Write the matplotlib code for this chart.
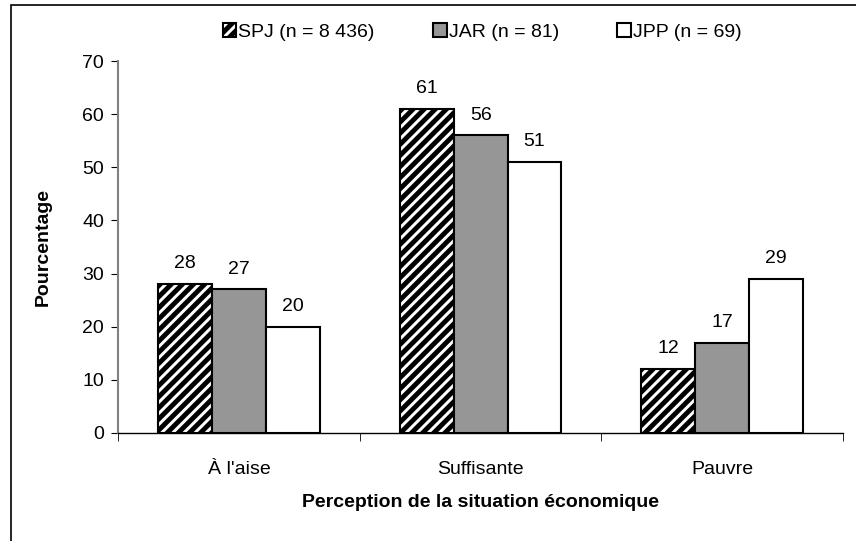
import numpy as np
import matplotlib.pyplot as plt
from matplotlib.patches import Rectangle

plt.rcParams['font.family'] = ['Liberation Sans', 'DejaVu Sans']
plt.rcParams['hatch.linewidth'] = 3.5

# data
categories = ["À l'aise", "Suffisante", "Pauvre"]
series = ["SPJ (n = 8 436)", "JAR (n = 81)", "JPP (n = 69)"]
spj = [28, 61, 12]
jar = [27, 56, 17]
jpp = [20, 51, 29]

fig = plt.figure(figsize=(8.56, 5.41), dpi=100)
ax = fig.add_axes([0.138, 0.2, 0.847, 0.687])

x = np.arange(len(categories))
w = 0.223
styles = [
    dict(facecolor='white', edgecolor='black', hatch='///'),
    dict(facecolor='#969696', edgecolor='black'),
    dict(facecolor='white', edgecolor='black'),
]
handles = []
for i, vals in enumerate([spj, jar, jpp]):
    bars = ax.bar(x + (i - 1) * w, vals, w, linewidth=1.5, label=series[i], **styles[i])
    handles.append(bars)
    for xi, v in zip(x + (i - 1) * w, vals):
        ax.annotate(str(v), (xi, v), xytext=(0, 8.5), textcoords='offset points',
                    ha='center', va='bottom', fontsize=14)

ax.set_xlim(-0.5, 2.5)
ax.set_ylim(0, 70)
ax.set_yticks(range(0, 71, 10))
ax.set_xticks(x)
ax.set_xticklabels(categories, fontsize=14)
ax.tick_params(axis='x', length=0, pad=20)
ax.set_xticks([-0.5, 0.5, 1.5, 2.5], minor=True)
ax.tick_params(axis='x', which='minor', length=6, direction='out')
ax.tick_params(axis='y', labelsize=14, length=5, direction='out', pad=5)
ax.spines['top'].set_visible(False)
ax.spines['right'].set_visible(False)
ax.spines['left'].set_color('#808080')
ax.spines['left'].set_linewidth(1.5)
ax.spines['bottom'].set_linewidth(1.0)

ax.set_ylabel('Pourcentage', fontsize=14, fontweight='bold', labelpad=22)
ax.set_xlabel('Perception de la situation économique', fontsize=14,
              fontweight='bold', labelpad=12)

fig.legend(handles=handles, labels=series, loc='center',
           bbox_to_anchor=(482 / 856, 1 - 32 / 541), ncol=3, frameon=False,
           fontsize=14, handlelength=0.7, handleheight=0.7, handletextpad=0.1,
           columnspacing=3.0)

# outer frame (cropped)
fig.patches.append(Rectangle((11 / 856, -0.1), 1.2, 1 - 5 / 541 + 0.1,
                             transform=fig.transFigure, fill=False,
                             edgecolor='black', linewidth=1.2))

fig.savefig('out.png', dpi=100)
